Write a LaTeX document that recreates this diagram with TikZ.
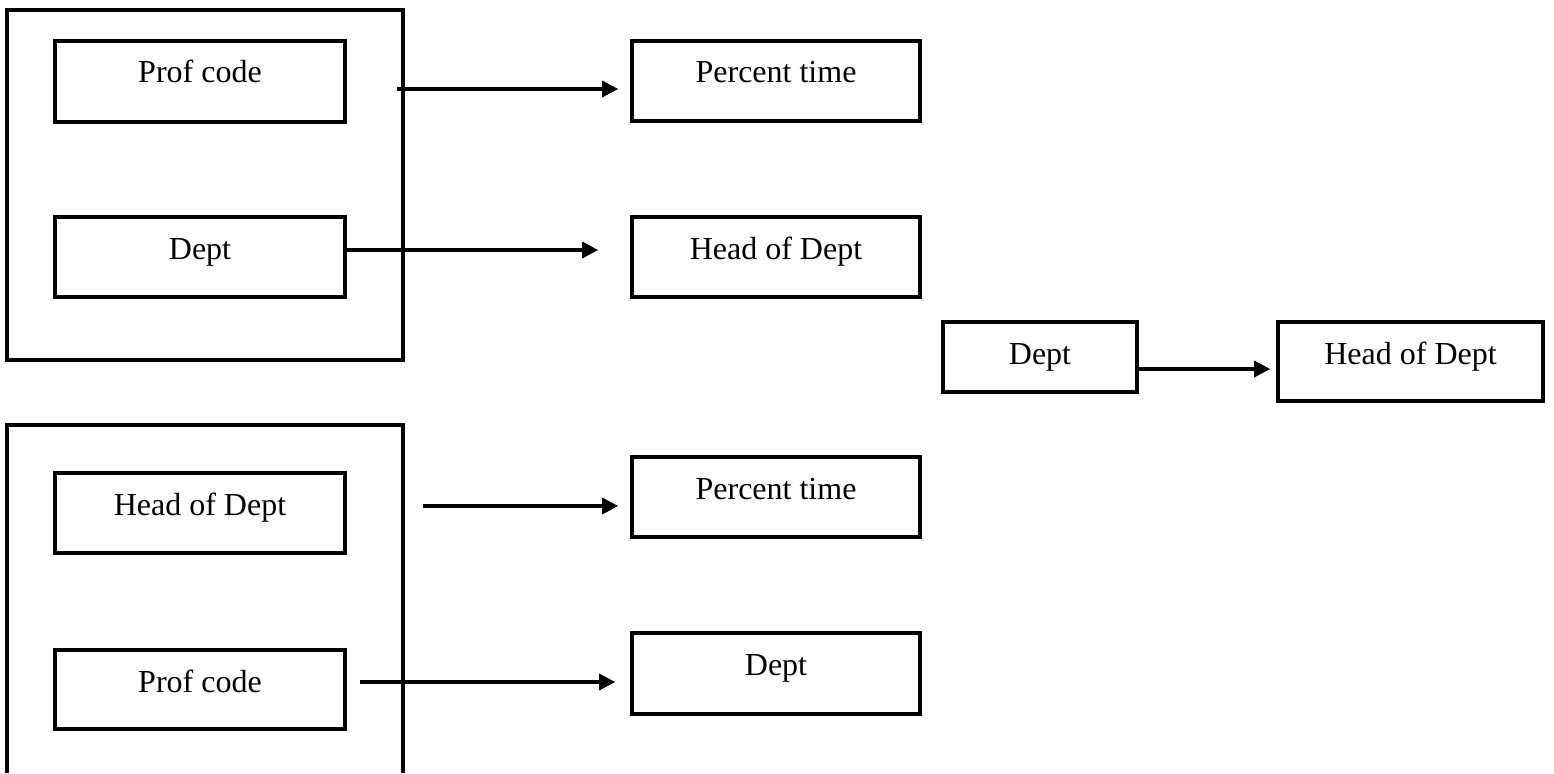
\documentclass[tikz,border=0pt]{standalone}
\usepackage{fontspec}
\setmainfont{Liberation Serif}
\usetikzlibrary{arrows.meta}

\begin{document}
\begin{tikzpicture}[
  x=1pt, y=-1pt,
  every node/.style={font=\fontsize{32}{38}\selectfont},
  % attribute box: width, text depth (box height minus 42pt)
  attr/.style 2 args={draw, line width=3.6pt, inner sep=0pt,
    minimum width=#1, text height=42pt, text depth=#2},
  frame/.style={draw, line width=3.6pt, inner sep=0pt},
  link/.style={line width=3.2pt, -{Triangle[length=16pt,width=16pt]}}
]
\useasboundingbox (0,0) rectangle (1554,773);

% upper group
\node[frame, minimum width=396pt, minimum height=350pt] (grpA) at (205,185) {};
\node[attr={290pt}{39pt}] (pcA) at (200,81.5) {Prof code};
\node[attr={290pt}{38pt}] (dpA) at (200,257) {Dept};
\node[attr={288pt}{38pt}] (ptA) at (776,81) {Percent time};
\node[attr={288pt}{38pt}] (hdA) at (776,257) {Head of Dept};

\coordinate (sA1) at (397,89);
\coordinate (sA2) at ([yshift=7pt]dpA.east);
\draw[link, shorten >=12pt] (sA1) -- (sA1 -| ptA.west);
\draw[link, shorten >=32pt] (sA2) -- (sA2 -| hdA.west);

% single dependency on the right
\node[attr={194pt}{28pt}] (dpB) at (1040,357) {Dept};
\node[attr={265pt}{37pt}] (hdB) at (1410.5,361.5) {Head of Dept};
\coordinate (sB) at ([yshift=-12pt]dpB.east);
\draw[link, shorten >=6pt] (sB) -- (sB -| hdB.west);

% lower group, open at the bottom
\coordinate (gC1) at (7,773);
\coordinate (gC2) at (7,425);
\coordinate (gC3) at (403,425);
\coordinate (gC4) at (403,773);
\draw[line width=3.6pt] (gC1) -- (gC2) -- (gC3) -- (gC4);
\node[attr={290pt}{38pt}] (hdC) at (200,513) {Head of Dept};
\node[attr={290pt}{37pt}] (pcC) at (200,689.5) {Prof code};
\node[attr={288pt}{38pt}] (ptC) at (776,497) {Percent time};
\node[attr={288pt}{39pt}] (dpC) at (776,673.5) {Dept};

\coordinate (sC1) at (423,506);
\coordinate (sC2) at (360,682);
\draw[link, shorten >=12pt] (sC1) -- (sC1 -| ptC.west);
\draw[link, shorten >=15pt] (sC2) -- (sC2 -| dpC.west);
\end{tikzpicture}
\end{document}
